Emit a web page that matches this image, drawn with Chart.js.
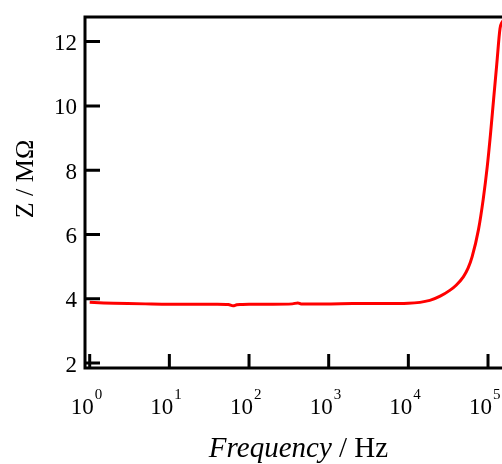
<!DOCTYPE html>
<html>
<head>
<meta charset="utf-8">
<script src="https://cdn.jsdelivr.net/npm/chart.js@4.4.1/dist/chart.umd.min.js"></script>
<style>
  html, body { margin: 0; padding: 0; overflow: hidden; background: #fff; }
  #wrap { width: 502px; height: 464px; overflow: hidden; }
</style>
</head>
<body>
<div id="wrap"><canvas id="zChart" width="540" height="464"></canvas></div>
<script>
// impedance vs frequency
const frequency = [1, 1.5, 2, 3, 5, 10, 20, 40, 55, 63, 70, 80, 100, 200, 350, 410, 450,
  1000, 2000, 5000, 10000, 18600, 25100, 33100, 39800, 49000, 56200, 63100, 75900,
  87100, 97700, 107200, 117500, 128800, 141300, 149600, 166000];
const impedance = [3.89, 3.87, 3.86, 3.85, 3.84, 3.83, 3.83, 3.83, 3.82, 3.78, 3.81, 3.82, 3.83, 3.83, 3.84, 3.87, 3.84,
  3.84, 3.85, 3.85, 3.86, 3.95, 4.08, 4.26, 4.42, 4.68, 4.95, 5.30, 6.15,
  7.1, 8.1, 9.1, 10.2, 11.3, 12.4, 12.6, 12.7];

const xTicks = [1, 10, 100, 1000, 10000, 100000];
const xTickExponents = ['0', '1', '2', '3', '4', '5'];
const yTicks = [2, 4, 6, 8, 10, 12];

const serif = '"Liberation Serif", "Times New Roman", serif';

const framePlugin = {
  id: 'frame',
  afterDraw(chart) {
    const ctx = chart.ctx;
    const a = chart.chartArea;
    const x = chart.scales.x;
    const y = chart.scales.y;
    ctx.save();

    // box + inward ticks
    ctx.strokeStyle = '#000';
    ctx.lineWidth = 3;
    ctx.beginPath();
    ctx.rect(a.left, a.top, a.right - a.left, a.bottom - a.top);
    ctx.stroke();
    ctx.beginPath();
    yTicks.forEach(v => {
      const py = y.getPixelForValue(v);
      ctx.moveTo(a.left, py);
      ctx.lineTo(a.left + 15, py);
    });
    xTicks.forEach(v => {
      const px = x.getPixelForValue(v);
      ctx.moveTo(px, a.bottom);
      ctx.lineTo(px, a.bottom - 14);
    });
    ctx.stroke();

    // tick labels
    ctx.fillStyle = '#000';
    ctx.textBaseline = 'alphabetic';
    ctx.font = '23px ' + serif;
    ctx.textAlign = 'right';
    yTicks.forEach(v => {
      ctx.fillText(String(v), a.left - 8, y.getPixelForValue(v) + 8.5);
    });
    xTicks.forEach((v, i) => {
      const px = x.getPixelForValue(v);
      ctx.font = '23px ' + serif;
      ctx.textAlign = 'right';
      ctx.fillText('10', px + 4, a.bottom + 46);
      ctx.font = '15px ' + serif;
      ctx.textAlign = 'left';
      ctx.fillText(xTickExponents[i], px + 5, a.bottom + 31);
    });

    // x title: italic "Frequency" + " / Hz"
    const italicPart = 'Frequency';
    const plainPart = ' / Hz';
    ctx.font = 'italic 29px ' + serif;
    const w1 = ctx.measureText(italicPart).width;
    ctx.font = '29px ' + serif;
    const w2 = ctx.measureText(plainPart).width;
    const cx = (a.left + a.right) / 2;
    const startX = cx - (w1 + w2) / 2;
    ctx.textAlign = 'left';
    ctx.font = 'italic 29px ' + serif;
    ctx.fillText(italicPart, startX, a.bottom + 89);
    ctx.font = '29px ' + serif;
    ctx.fillText(plainPart, startX + w1, a.bottom + 89);

    // y title
    ctx.translate(33, 179);
    ctx.rotate(-Math.PI / 2);
    ctx.textAlign = 'center';
    ctx.font = '26px ' + serif;
    ctx.fillText('Z / MΩ', 0, 0);

    ctx.restore();
  }
};

const points = frequency.map((f, i) => ({ x: f, y: impedance[i] }));

new Chart(document.getElementById('zChart').getContext('2d'), {
  type: 'line',
  data: {
    datasets: [{
      label: 'Z',
      data: points,
      borderColor: '#ff0000',
      borderWidth: 3,
      pointRadius: 0,
      fill: false,
      cubicInterpolationMode: 'monotone'
    }]
  },
  options: {
    responsive: false,
    animation: false,
    layout: { padding: { left: 85, top: 17, right: 28, bottom: 96 } },
    scales: {
      x: {
        type: 'logarithmic',
        min: 0.873,
        max: 200000,
        display: false
      },
      y: {
        type: 'linear',
        min: 1.845,
        max: 12.765,
        display: false
      }
    },
    plugins: {
      legend: { display: false },
      tooltip: { enabled: false }
    }
  },
  plugins: [framePlugin]
});
</script>
</body>
</html>
